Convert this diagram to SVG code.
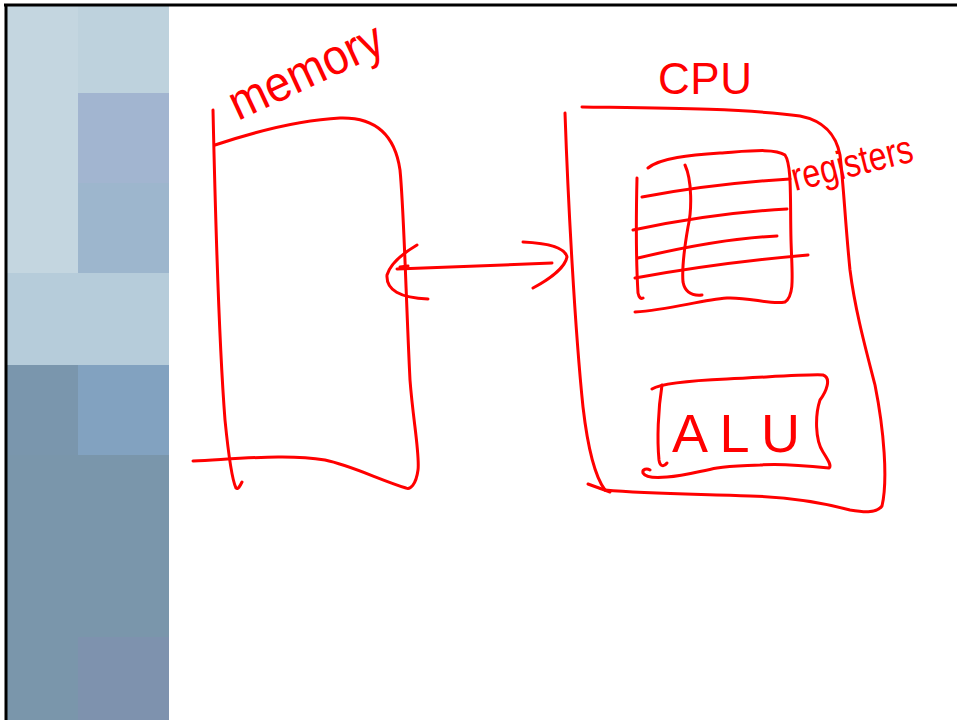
<svg xmlns="http://www.w3.org/2000/svg" width="957" height="720" viewBox="0 0 957 720">
<defs>
<style>
.ink{fill:none;stroke:#ff0000;stroke-width:3;stroke-linecap:round;stroke-linejoin:round}
.hand{fill:#ff0000;font-family:"Liberation Sans","DejaVu Sans",sans-serif}
</style>
</defs>
<rect x="0" y="0" width="957" height="720" fill="#ffffff"/>
<g id="background">
<rect x="7" y="6" width="71" height="87" fill="#c4d6e0"/>
<rect x="78" y="6" width="91" height="87" fill="#bed2dd"/>
<rect x="7" y="93" width="71" height="90" fill="#c4d6e0"/>
<rect x="78" y="93" width="91" height="90" fill="#a2b5d0"/>
<rect x="7" y="183" width="71" height="90" fill="#c4d6e0"/>
<rect x="78" y="183" width="91" height="90" fill="#9db6cd"/>
<rect x="7" y="273" width="162" height="92" fill="#b6ccda"/>
<rect x="7" y="365" width="71" height="90" fill="#7a96ad"/>
<rect x="78" y="365" width="91" height="90" fill="#82a2c0"/>
<rect x="7" y="455" width="162" height="182" fill="#7a96ab"/>
<rect x="7" y="637" width="71" height="83" fill="#7a96ab"/>
<rect x="78" y="637" width="91" height="83" fill="#7e92ae"/>
<line x1="4" y1="5" x2="957" y2="5" stroke="#000" stroke-width="3"/>
<line x1="6" y1="4" x2="6" y2="720" stroke="#000" stroke-width="3"/>
</g>
<g id="memory">
<path class="ink" d="M213,110 C215,200 218,330 225,420 C229,460 232,480 236,488 C238,490 240,486 242,482"/>
<path class="ink" d="M215,145 C260,130 300,120 340,118 C375,117 395,135 400,170 C404,210 406,300 410,380 C413,420 420,455 418,470 C416,485 410,490 406,488 C380,480 350,465 325,460 C290,454 250,458 193,461"/>
<text class="hand" x="238" y="121" font-size="50" transform="rotate(-25 238 121)" textLength="165" lengthAdjust="spacingAndGlyphs">memory</text>
</g>
<g id="cpu">
<path class="ink" d="M565,113 C568,200 575,330 583,407 C588,450 596,478 605,490"/>
<path class="ink" d="M588,484 C596,487 602,489 610,492"/>
<path class="ink" d="M582,107 C650,108 740,108 800,116 C825,121 836,135 840,155 C844,190 845,220 850,270 C855,310 866,350 875,385 C884,430 888,480 882,506 C876,514 862,512 850,510 C820,502 790,497 750,496 C700,494 650,494 605,490"/>
<text class="hand" x="658" y="94" font-size="44" textLength="94" lengthAdjust="spacing">CPU</text>
</g>
<g id="registers">
<path class="ink" d="M648,168 C660,158 690,155 720,153 C750,151 775,148 785,155 C792,165 790,200 791,240 C792,275 795,295 785,302 C770,305 750,297 727,298 C700,300 670,310 635,312"/>
<path class="ink" d="M637,178 C636,220 636,260 638,293 C639,298 641,299 643,298"/>
<path class="ink" d="M685,165 C692,180 692,210 688,227 C684,250 682,270 683,282 C685,292 692,296 702,295"/>
<path class="ink" d="M642,197 C690,188 740,182 790,179"/>
<path class="ink" d="M633,230 C680,220 730,212 787,209"/>
<path class="ink" d="M638,258 C680,248 730,238 777,236"/>
<path class="ink" d="M635,278 C690,268 750,260 808,255"/>
<text class="hand" x="795" y="191" font-size="40" transform="rotate(-14 795 191)" textLength="124" lengthAdjust="spacingAndGlyphs">registers</text>
</g>
<g id="alu">
<path class="ink" d="M652,389 C660,384 680,381 727,379 C770,377 810,374 823,375 C832,378 826,392 820,400 C815,415 815,440 823,452 C828,460 832,466 829,468 C810,466 780,463 760,465 C740,466 730,466 717,468 C700,471 685,476 667,477 C655,478 645,477 643,473 C642,469 647,468 650,470"/>
<path class="ink" d="M662,385 C658,410 657,440 659,460 C660,467 664,467 667,463"/>
<text class="hand" x="672" y="452" font-size="54" textLength="128" lengthAdjust="spacing">ALU</text>
</g>
<g id="connectors">
<path class="ink" d="M397,269 C450,267 500,265 552,263"/>
<path class="ink" d="M417,245 C400,255 390,265 387,275 C386,290 400,298 428,299"/>
<path class="ink" d="M400,267 L408,266"/>
<path class="ink" d="M523,242 C545,243 565,247 567,257 C565,268 548,280 533,288"/>
</g>
</svg>
